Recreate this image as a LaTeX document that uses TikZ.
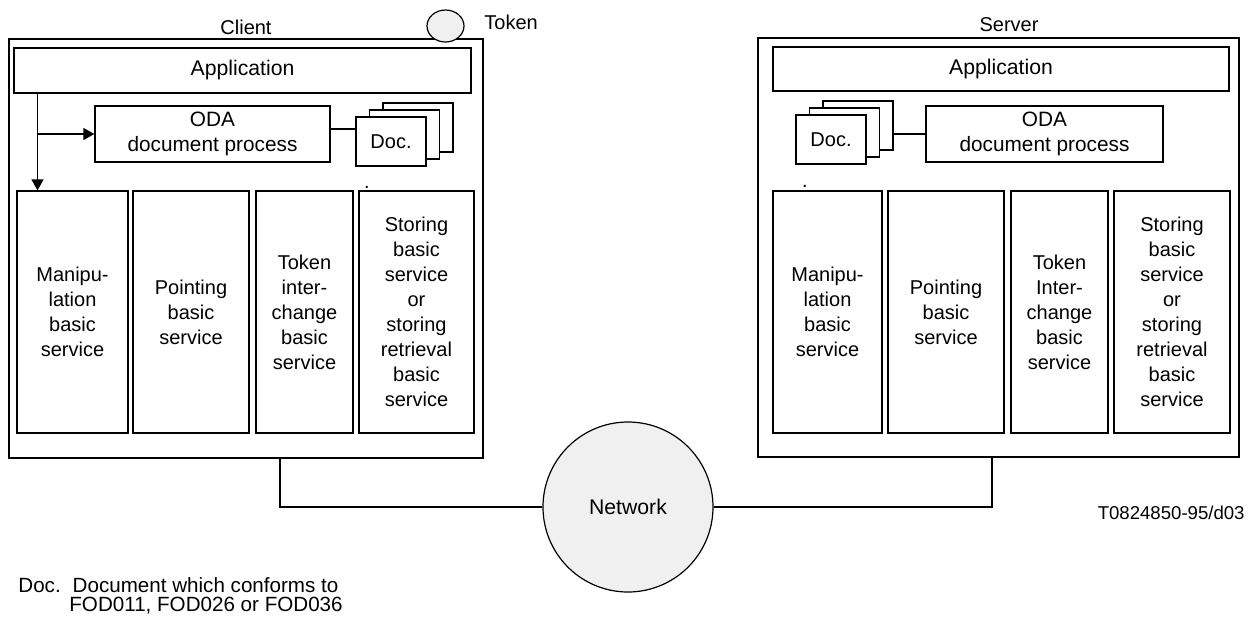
\documentclass[tikz,border=0pt]{standalone}
\usepackage{fontspec}
\setmainfont{Liberation Sans}
\usepackage{xcolor}
\usetikzlibrary{calc,
	positioning,
	shapes,
	arrows,
	arrows.meta}

\definecolor{netgray}{gray}{0.94}

\begin{document}
\begin{tikzpicture}[x=0.5pt, y=-0.5pt,
	every node/.style={font=\fontsize{10}{12.5}\selectfont},
	big/.style={font=\fontsize{10.6}{12.5}\selectfont},
	note/.style={anchor=base west, inner sep=0pt, font=\fontsize{10.3}{10}\selectfont},
	sz/.style 2 args={minimum width=#1*0.5pt, minimum height=#2*0.5pt},
	box/.style={draw, rectangle, inner sep=0pt, align=center, line width=0.6pt},
	docbox/.style={box, fill=white, sz={70}{49}},
	link/.style={draw, line width=0.6pt},
	arr/.style={link, -{Triangle[length=5.5pt,width=6pt]}}]
                            \useasboundingbox (0,0) rectangle (1254,617);
                            % client side
                            \node (client) [box, sz={474}{419}] at (246,248.5) {};
                            \node (clientlbl) at (246,27) {Client};
                            \node (token) [draw, ellipse, fill=netgray, inner sep=0pt, line width=0.6pt, sz={37}{32}] at (445.5,26) {};
                            \node (tokenlbl) [anchor=west, inner sep=0pt] at (484,22) {Token};
                            \node (capp) [box, big, sz={457}{45}] at (242.5,70.5) {Application};
                            \node (coda) [box, font=\fontsize{10.4}{12.5}\selectfont, sz={235}{56}] at (212.5,134) {ODA\\document process};
                            \node (cdoc3) [docbox] at (418,127.5) {};
                            \node (cdoc2) [docbox] at (404.5,134.5) {};
                            \node (cdoc1) [docbox] at (391,141.5) {Doc.};
                            \node (cman) [box, sz={111}{242}] at (72.5,312) {Manipu-\\lation\\basic\\service};
                            \node (cpnt) [box, sz={116}{242}] at (191,312) {Pointing\\basic\\service};
                            \node (ctok) [box, sz={97}{242}] at (304.5,312) {Token\\inter-\\change\\basic\\service};
                            \node (csto) [box, sz={115}{242}] at (416.5,312) {Storing\\basic\\service\\or\\storing\\retrieval\\basic\\service};
                            \node (cdot) [anchor=base, inner sep=0pt] at (367,188) {.};
                            \coordinate (ctap) at (37.5,93);
                            \draw[arr] (ctap) -- (ctap |- cman.north);
                            \draw[arr] (ctap |- coda.west) -- (coda.west);
                            \draw[link] ([yshift=2.5pt]coda.east) -- ([yshift=2.5pt]coda.east -| cdoc1.west);
                            % server side
                            \node (server) [box, sz={481}{419}] at (998.5,247.5) {};
                            \node (serverlbl) at (1009,25) {Server};
                            \node (sapp) [box, big, sz={456}{44}] at (1001,69) {Application};
                            \node (soda) [box, font=\fontsize{10.4}{12.5}\selectfont, sz={237}{56}] at (1044.5,134) {ODA\\document process};
                            \node (sdoc3) [docbox] at (858,125.5) {};
                            \node (sdoc2) [docbox] at (844.5,132.5) {};
                            \node (sdoc1) [docbox] at (831,139.5) {Doc.};
                            \node (sman) [box, sz={109}{242}] at (827.5,312) {Manipu-\\lation\\basic\\service};
                            \node (spnt) [box, sz={116}{242}] at (946,312) {Pointing\\basic\\service};
                            \node (stok) [box, sz={97}{242}] at (1059.5,312) {Token\\Inter-\\change\\basic\\service};
                            \node (ssto) [box, sz={116}{242}] at (1172,312) {Storing\\basic\\service\\or\\storing\\retrieval\\basic\\service};
                            \node (sdot) [anchor=base, inner sep=0pt] at (805,187) {.};
                            \draw[link] (sdoc3.east |- soda.west) -- (soda.west);
                            % network
                            \node (net) [draw, circle, big, fill=netgray, inner sep=0pt, line width=0.6pt, minimum size=85pt] at (628,507) {Network};
                            \coordinate (cport) at (280,458);
                            \coordinate (sport) at (992,457);
                            \draw[link] (cport) |- (net.west);
                            \draw[link] (net.east) -| (sport);
                            % notes
                            \node (figno) [anchor=east, inner sep=0pt, font=\fontsize{9.3}{11}\selectfont] at (1245,513) {T0824850-95/d03};
                            \node (legenddoc) [note] at (18,592) {Doc.\hspace{6pt}Document which conforms to};
                            \node (legendfod) [note] at (69,611) {FOD011, FOD026 or FOD036};
                        \end{tikzpicture}
\end{document}
